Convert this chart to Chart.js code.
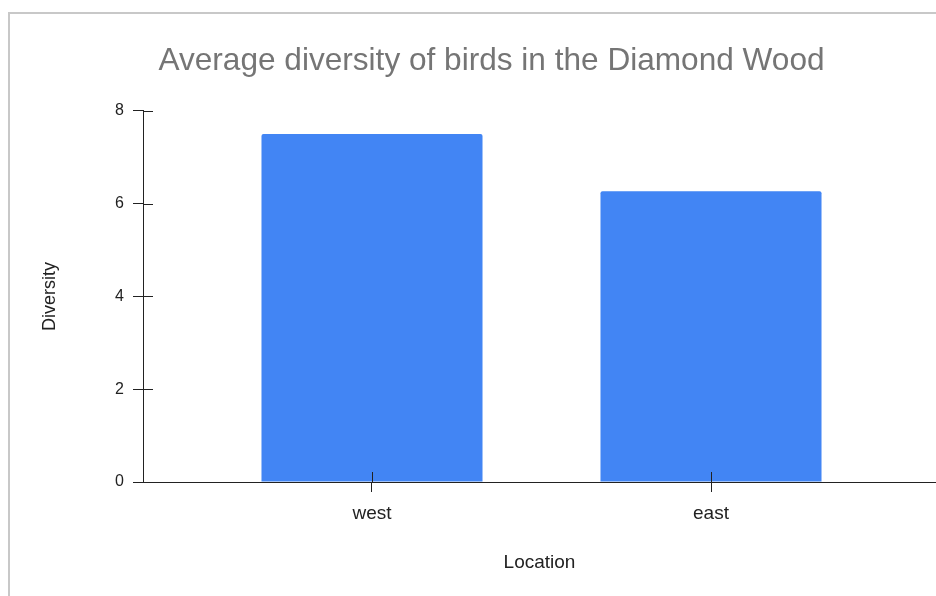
<!DOCTYPE html>
<html>
<head>
<meta charset="utf-8">
<script src="https://cdn.jsdelivr.net/npm/chart.js@4"></script>
<style>
    html, body { margin: 0; padding: 0; background: #fff; overflow: hidden; }
    #wrap { position: relative; width: 936px; height: 596px; }
    #frame { position: absolute; left: 8px; top: 12px; width: 1000px; height: 700px;
             border-top: 2px solid #c8c8c8; border-left: 2px solid #c8c8c8; pointer-events: none; }
</style>
</head>
<body>
<div id="wrap">
    <canvas id="diversityChart" width="936" height="596"></canvas>
    <div id="frame"></div>
</div>
<script>
// Bird diversity per location
const locations = ['west', 'east'];
const diversity = [7.5, 6.27];
const yTicks = [0, 2, 4, 6, 8];

const BAR_COLOR = '#4285f4';
const AXIS_COLOR = '#222222';
const TICK_LEN = 10;

// Chart.js only draws tick marks outside the plot, so add the inner half here
const crossTicks = {
    id: 'crossTicks',
    afterDatasetsDraw(chart) {
        const { ctx, chartArea, scales: { x, y } } = chart;
        ctx.save();
        ctx.strokeStyle = AXIS_COLOR;
        ctx.lineWidth = 1;
        ctx.beginPath();
        x.ticks.forEach(t => {
            const px = Math.round(x.getPixelForValue(t.value)) + 0.5;
            ctx.moveTo(px, chartArea.bottom);
            ctx.lineTo(px, chartArea.bottom - TICK_LEN);
        });
        y.ticks.forEach(t => {
            const py = Math.round(y.getPixelForValue(t.value)) + 0.5;
            ctx.moveTo(chartArea.left, py);
            ctx.lineTo(chartArea.left + TICK_LEN, py);
        });
        ctx.stroke();
        ctx.restore();
    }
};

Chart.defaults.font.family = '"Liberation Sans", Arial, sans-serif';
Chart.defaults.color = '#222';

new Chart(document.getElementById('diversityChart'), {
    type: 'bar',
    data: {
        datasets: [{
            label: 'Diversity',
            data: locations.map((loc, i) => ({ x: i, y: diversity[i] })),
            backgroundColor: BAR_COLOR,
            borderRadius: 2,
            borderSkipped: 'bottom',
            categoryPercentage: 1,
            barPercentage: 0.652
        }]
    },
    options: {
        responsive: false,
        animation: false,
        layout: { padding: { left: 47, top: 0, right: 0, bottom: 0 } },
        plugins: {
            legend: { display: false },
            tooltip: { enabled: false },
            title: {
                display: true,
                text: 'Average diversity of birds in the Diamond Wood',
                color: '#757575',
                font: { size: 31.6, weight: 'normal' },
                padding: { top: 42, bottom: 31 }
            }
        },
        scales: {
            x: {
                type: 'linear',
                offset: false,
                min: -0.6755,
                max: 1.6637,
                afterBuildTicks: s => { s.ticks = locations.map((_, i) => ({ value: i })); },
                afterFit: s => { s.height = 596 - 482; },
                ticks: {
                    callback: v => locations[v],
                    font: { size: 19 },
                    color: '#222',
                    padding: 10,
                    maxRotation: 0
                },
                grid: { offset: false, drawOnChartArea: false, drawTicks: true, tickLength: TICK_LEN, color: AXIS_COLOR },
                border: { color: AXIS_COLOR, width: 1 },
                title: {
                    display: true,
                    text: 'Location',
                    font: { size: 19 },
                    color: '#222',
                    padding: { top: 0, bottom: 21.6 }
                }
            },
            y: {
                min: 0,
                max: 8,
                afterBuildTicks: s => { s.ticks = yTicks.map(v => ({ value: v })); },
                afterFit: s => { s.width = 143 - 47; },
                ticks: { font: { size: 16 }, color: '#222', padding: 9 },
                grid: { drawOnChartArea: false, drawTicks: true, tickLength: TICK_LEN, color: AXIS_COLOR },
                border: { color: AXIS_COLOR, width: 1 },
                title: {
                    display: true,
                    text: 'Diversity',
                    font: { size: 18 },
                    color: '#222',
                    padding: { top: -8, bottom: 0 }
                }
            }
        }
    },
    plugins: [crossTicks]
});
</script>
</body>
</html>
